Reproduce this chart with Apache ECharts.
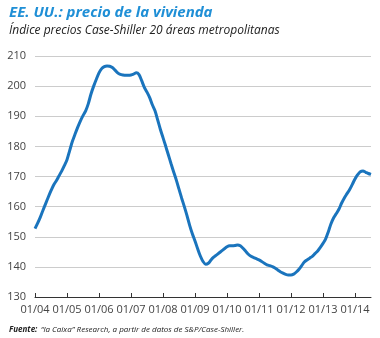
<!DOCTYPE html>
<html>
<head>
<meta charset="utf-8">
<script src="https://cdn.jsdelivr.net/npm/echarts@6/dist/echarts.min.js"></script>
<style>html,body{margin:0;padding:0;background:#fff;}#c{width:380px;height:338px;}</style>
</head>
<body>
<div id="c"></div>
<script>
// Monthly, Jan 2004 .. Jul 2014
const startYear = 2004;
const values = [
 152.7,154.5,156.5,158.8,161.0,163.2,165.3,167.2,168.6,170.2,171.8,173.6,
 175.6,178.6,181.6,184.0,186.3,188.4,190.2,191.8,194.2,197.4,200.0,202.3,
 204.4,205.8,206.5,206.7,206.6,206.2,205.3,204.4,203.9,203.7,203.6,203.6,
 203.7,204.0,204.4,203.8,201.8,199.6,198.0,196.2,193.8,191.8,188.8,185.7,
 182.9,180.1,177.2,174.3,171.5,168.8,165.8,162.8,160.0,157.0,153.8,151.0,
 148.6,146.0,143.6,141.8,140.9,141.2,142.3,143.2,143.9,144.6,145.3,146.0,
 146.7,147.0,147.0,147.1,147.3,147.0,146.2,145.2,144.2,143.5,143.1,142.7,
 142.3,141.8,141.2,140.7,140.4,140.1,139.6,139.0,138.4,137.9,137.5,137.3,
 137.3,137.6,138.3,139.2,140.4,141.6,142.3,142.9,143.5,144.4,145.3,146.5,
 147.8,149.3,151.7,154.3,156.3,157.7,159.2,161.2,162.9,164.3,165.7,167.4,
 169.2,170.6,171.6,171.8,171.4,171.0,170.7
];
const months = values.map((v, i) => {
  const y = startYear + Math.floor(i / 12);
  const m = (i % 12) + 1;
  return String(m).padStart(2, '0') + '/' + String(y % 100).padStart(2, '0');
});
const yTicks = [130, 140, 150, 160, 170, 180, 190, 200, 210];

const chart = echarts.init(document.getElementById('c'), null, {renderer: 'canvas'});
chart.setOption({
  animation: false,
  backgroundColor: '#fff',
  textStyle: {fontFamily: 'Open Sans'},
  graphic: [
    {type: 'text', left: 9, top: 5, style: {text: 'EE. UU.: precio de la vivienda', font: 'italic bold 15px "Open Sans"', fill: '#1f8fd6'}},
    {type: 'text', left: 9, top: 25, style: {text: 'Índice precios Case-Shiller 20 áreas metropolitanas', font: 'italic 12px "Open Sans"', fill: '#222'}},
    {type: 'text', left: 9, top: 324, style: {rich: {b: {font: 'italic bold 8px "Open Sans"', fill: '#222'}, n: {font: 'italic 8px "Open Sans"', fill: '#222'}}, text: '{b|Fuente:} {n|“la Caixa” Research, a partir de datos de S&P/Case-Shiller.}'}}
  ],
  grid: {left: 35, right: 9, top: 56, bottom: 41, containLabel: false},
  xAxis: {
    type: 'category',
    data: months,
    boundaryGap: false,
    axisLine: {lineStyle: {color: '#333', width: 1}},
    axisTick: {inside: true, length: 4, interval: 11, lineStyle: {color: '#333'}},
    axisLabel: {interval: 11, color: '#444', fontSize: 11, margin: 7, formatter: v => v},
    splitLine: {show: false}
  },
  yAxis: {
    type: 'value',
    min: yTicks[0], max: yTicks[yTicks.length - 1], interval: 10,
    axisLine: {show: false},
    axisTick: {show: false},
    axisLabel: {color: '#444', fontSize: 11, margin: 9},
    splitLine: {lineStyle: {color: '#cccccc', width: 1}}
  },
  series: [{
    type: 'line',
    data: values,
    showSymbol: false,
    smooth: 0.3,
    lineStyle: {color: '#1a74bd', width: 3},
    z: 3
  }]
});
</script>
</body>
</html>
